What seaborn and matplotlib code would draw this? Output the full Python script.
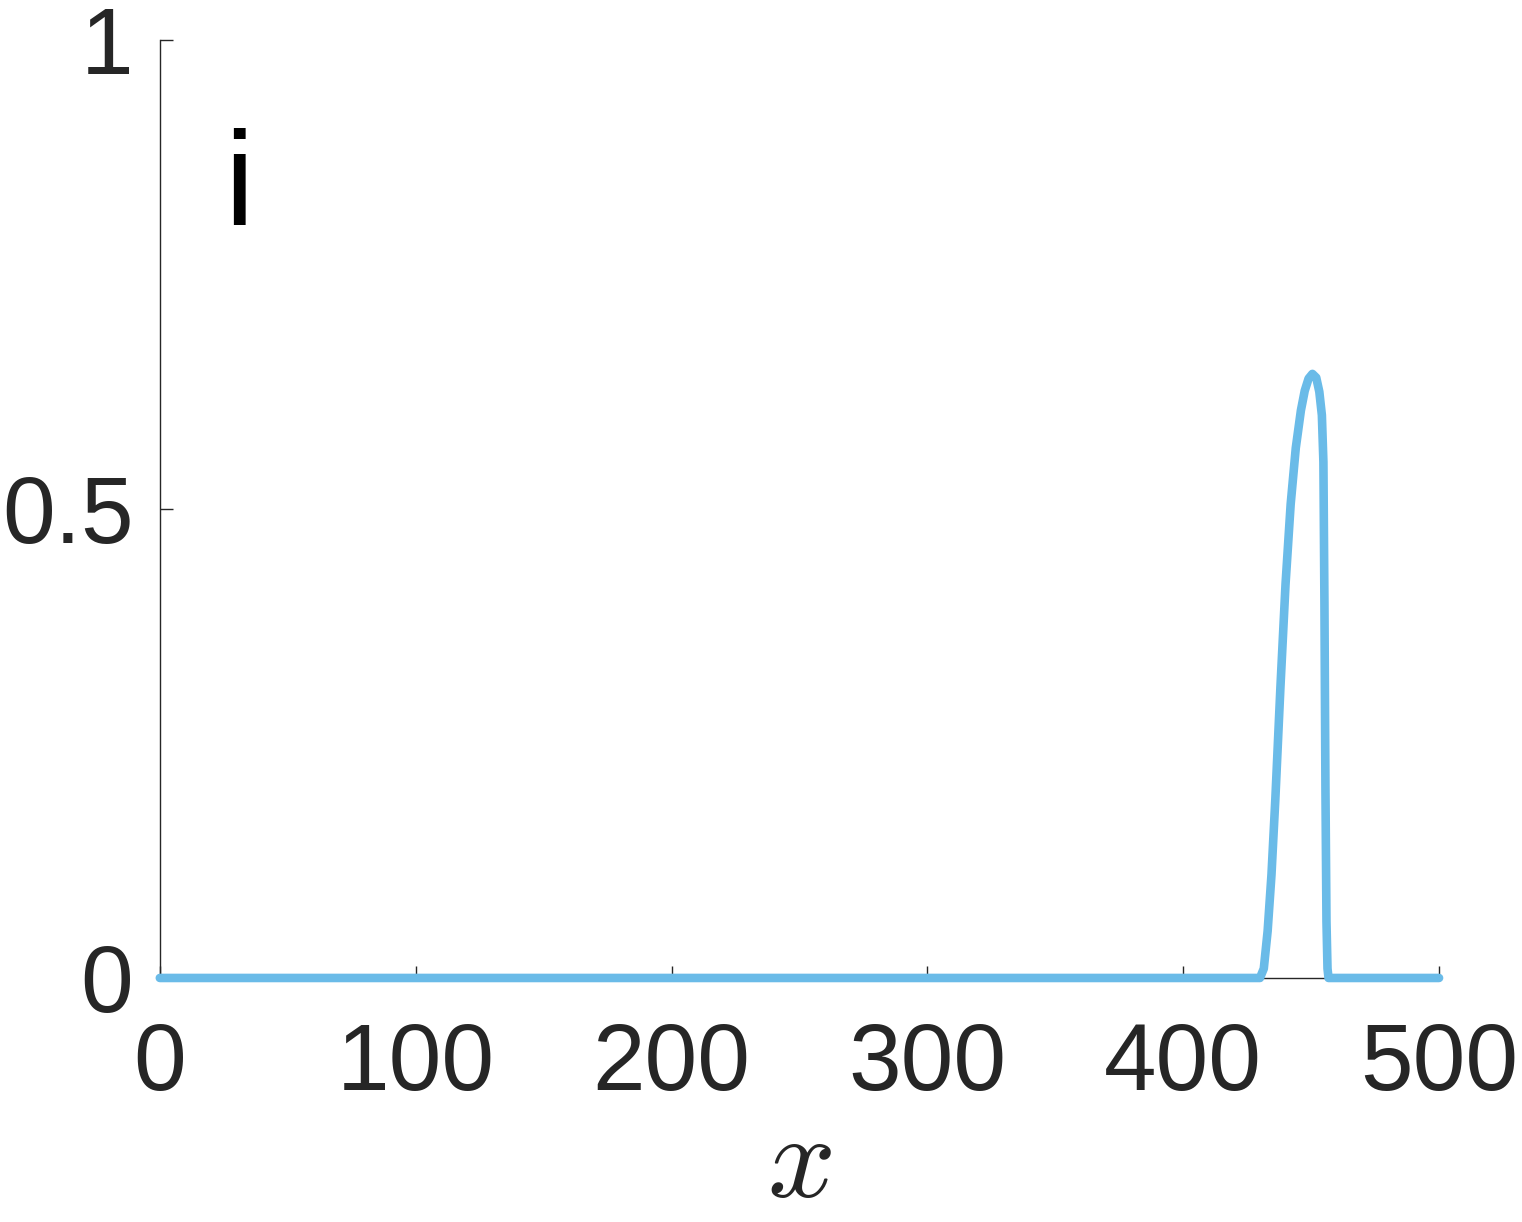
import numpy as np
import pandas as pd
import matplotlib
matplotlib.use("Agg")
import matplotlib.pyplot as plt
import seaborn as sns

# profile
x_vals = [0, 100, 200, 300, 400, 430, 431.5, 433, 434.5, 436, 438, 440, 442, 444,
          446, 447.5, 449, 450.5, 452, 453.2, 454.2, 454.8, 455.2, 455.6, 456.0,
          456.4, 456.8, 470, 500]
y_vals = [0, 0, 0, 0, 0, 0, 0.01, 0.05, 0.11, 0.19, 0.31, 0.42, 0.505, 0.565,
          0.605, 0.626, 0.639, 0.644, 0.64, 0.625, 0.6, 0.55, 0.40, 0.20, 0.06,
          0.01, 0, 0, 0]
x_ticks = [0, 100, 200, 300, 400, 500]
y_ticks = [0, 0.5, 1]
y_tick_labels = ["0", "0.5", "1"]
panel_label = "i"

df = pd.DataFrame({"x": x_vals, "y": y_vals})

sns.set_style("ticks")
plt.rcParams["font.family"] = ["Liberation Sans", "DejaVu Sans"]
plt.rcParams["mathtext.fontset"] = "cm"

fig = plt.figure(figsize=(15.22, 12.22), dpi=100)
ax = fig.add_axes([0.105, 0.1997, 0.8405, 0.7676])

sns.lineplot(data=df, x="x", y="y", ax=ax, color="#6ABBE8", linewidth=6.2,
             clip_on=False, zorder=3)

ax.set_xlim(0, 500)
ax.set_ylim(0, 1)
ax.set_xticks(x_ticks)
ax.set_xticklabels([str(t) for t in x_ticks])
ax.set_yticks(y_ticks)
ax.set_yticklabels(y_tick_labels)
ax.tick_params(direction="in", length=9, width=1, colors="#262626",
               labelsize=68)
ax.tick_params(axis="x", pad=31)
ax.tick_params(axis="y", pad=19)
for s in ["top", "right"]:
    ax.spines[s].set_visible(False)
for s in ["left", "bottom"]:
    ax.spines[s].set_linewidth(1)
    ax.spines[s].set_color("#262626")

ax.set_xlabel("$x$", fontsize=86, color="#262626", labelpad=1)
ax.set_ylabel("")
ax.text(0.062, 0.803, panel_label, transform=ax.transAxes, fontsize=96,
        color="black", ha="center", va="baseline")

fig.savefig("out.png", dpi=100)
